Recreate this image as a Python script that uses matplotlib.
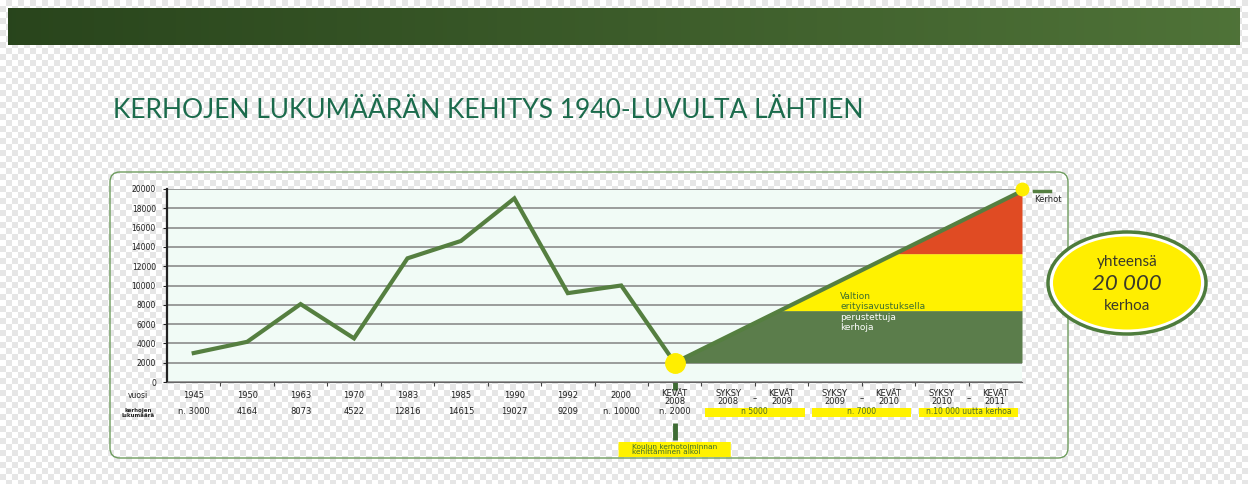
import numpy as np
import matplotlib
matplotlib.use('Agg')
import matplotlib.pyplot as plt
from matplotlib.patches import FancyBboxPatch, Ellipse, Rectangle
from matplotlib import transforms

W, H = 1248, 484

# data
years = ['1945', '1950', '1963', '1970', '1983', '1985', '1990', '1992', '2000',
         'KEVÄT\n2008', 'SYKSY\n2008', 'KEVÄT\n2009', 'SYKSY\n2009', 'KEVÄT\n2010',
         'SYKSY\n2010', 'KEVÄT\n2011']
counts = [3000, 4164, 8073, 4522, 12816, 14615, 19027, 9209, 10000, 2000]
count_labels = ['n. 3000', '4164', '8073', '4522', '12816', '14615', '19027', '9209',
                'n. 10000', 'n. 2000']
# new clubs after spring 2008: band limits (cumulative) and top of the wedge
band_limits = [2000, 7400, 13300, 19800]
band_colors = ['#5b7d4b', '#fff200', '#e04b23']
period_labels = ['n 5000', 'n. 7000', 'n.10 000 uutta kerhoa']
period_start = [10, 12, 14]
yticks = list(range(0, 20001, 2000))

fig = plt.figure(figsize=(W / 100, H / 100), dpi=100)

# transparent-looking checkerboard background
yy, xx = np.mgrid[0:H, 0:W]
chk = ((yy // 6 + xx // 6) % 2).astype(float)
bg = np.where(chk[..., None] == 1, np.array([0.905, 0.905, 0.905]), np.array([1.0, 1.0, 1.0]))
fig.figimage(bg, 0, 0, zorder=0)


def px_axes(x, y, w, h, **kw):
    return fig.add_axes([x / W, 1 - (y + h) / H, w / W, h / H], **kw)


# overlay in pixel coords
ov = px_axes(0, 0, W, H, zorder=1)
ov.set_xlim(0, W)
ov.set_ylim(H, 0)
ov.axis('off')
ov.patch.set_alpha(0)

# green banner
grad = np.linspace(0, 1, 300)
c0 = np.array([0.16, 0.27, 0.11])
c1 = np.array([0.31, 0.45, 0.22])
band = (c0[None, :] + (c1 - c0)[None, :] * grad[:, None])[None, :, :]
ov.imshow(band, extent=[8, 1240, 45, 8], aspect='auto')

ov.text(113, 110, 'KERHOJEN LUKUMÄÄRÄN KEHITYS 1940-LUVULTA LÄHTIEN',
        fontsize=19, color='#1b6b4c', va='center', ha='left', family='Lato')

frame = FancyBboxPatch((110, 172), 958, 286, boxstyle='round,pad=0,rounding_size=10',
                       fc='none', ec='#6e9c5e', lw=1.0)
ov.add_patch(frame)

# main chart
ax = px_axes(167, 189, 855, 193, zorder=2)
ax.set_facecolor('#f1fbf6')
ax.set_xlim(0, len(years))
ax.set_ylim(0, 20000)
ax.set_yticks(yticks)
ax.set_yticklabels([str(v) for v in yticks], fontsize=5.5, color='#222222')
ax.set_xticks(range(1, len(years)))
ax.set_xticklabels([])
ax.tick_params(axis='x', length=3, color='#444444')
ax.tick_params(axis='y', length=3, color='#222222', pad=5)
ax.grid(axis='y', color='#8c8c8c', lw=1.2)
ax.set_axisbelow(True)
for s in ['top', 'right']:
    ax.spines[s].set_visible(False)
ax.spines['left'].set_linewidth(1.6)
ax.spines['left'].set_color('#222222')
ax.spines['bottom'].set_color('#666666')

xs = np.arange(len(counts)) + 0.5
ax.plot(xs, counts, color='#557f40', lw=3, solid_joinstyle='miter', zorder=3)

# wedge of new clubs
x0, y0 = xs[-1], band_limits[0]
x1, y1 = len(years), band_limits[-1]


def hyp_x(y):
    return x0 + (np.asarray(y) - y0) / (y1 - y0) * (x1 - x0)


for lo, hi, col in zip(band_limits[:-1], band_limits[1:], band_colors):
    yv = np.array([lo, hi])
    ax.fill_betweenx(yv, hyp_x(yv), x1, color=col, lw=0, zorder=2)
ax.plot([x0, x1], [y0, y1], color='#557f40', lw=3, zorder=3, clip_on=False)
ax.plot([x0], [y0], 'o', ms=14, color='#ffee00', zorder=5, clip_on=False)
ax.plot([x1], [20000], 'o', ms=9, color='#ffee00', zorder=5, clip_on=False)

wedge_text = [('Valtion', 8911, '#3c6e2e'), ('erityisavustuksella', 7875, '#3c6e2e'),
              ('perustettuja', 6735, 'white'), ('kerhoja', 5596, 'white')]
for t, yv, col in wedge_text:
    ax.text(12.6, yv, t, fontsize=6.5, color=col, va='center', ha='left', zorder=4)

# legend
ov.plot([1034, 1050], [191, 191], color='#557f40', lw=2.5)
ov.text(1034, 199, 'Kerhot', fontsize=6, color='#222222', va='center', ha='left')

# table below the chart
bt = transforms.blended_transform_factory(ax.transData, ov.transData)
ov.text(138, 395, 'vuosi', fontsize=5.5, ha='center', va='center', color='#222222')
ov.text(138, 413, 'kerhojen\nlukumäärä', fontsize=4, ha='center', va='center',
        color='#222222', fontweight='bold', linespacing=0.9)
for i, lab in enumerate(years):
    if '\n' in lab:
        a, b = lab.split('\n')
        ov.text(i + 0.5, 393, a, transform=bt, fontsize=6, ha='center', va='center', color='#222222')
        ov.text(i + 0.5, 401, b, transform=bt, fontsize=6, ha='center', va='center', color='#222222')
    else:
        ov.text(i + 0.5, 395, lab, transform=bt, fontsize=6, ha='center', va='center', color='#222222')
for i, lab in enumerate(count_labels):
    ov.text(i + 0.5, 411, lab, transform=bt, fontsize=6, ha='center', va='center', color='#222222')
for s in period_start:
    ov.text(s + 1, 399, '–', transform=bt, fontsize=6, ha='center', va='center', color='#222222')
for s, lab in zip(period_start, period_labels):
    ov.add_patch(Rectangle((s + 0.07, 408), 1.86, 9, transform=bt, fc='#fff200', ec='none'))
    ov.text(s + 1, 412, lab, transform=bt, fontsize=5.5, ha='center', va='center', color='#4d6b2a')

# start marker below the axis
ov.plot([x0, x0], [366, 390], transform=bt, color='#3e6b34', lw=3.5, solid_capstyle='butt')
ov.plot([x0, x0], [423, 440], transform=bt, color='#3e6b34', lw=3.5, solid_capstyle='butt')
ov.add_patch(FancyBboxPatch((x0 - 1.05, 442), 2.1, 15, transform=bt,
                            boxstyle='round,pad=0,rounding_size=0.05',
                            fc='#fff200', ec='none'))
ov.text(x0 - 0.8, 449.5, 'Koulun kerhotoiminnan\nkehittäminen alkoi', transform=bt,
        fontsize=5.3, ha='left', va='center', color='#3d6b2d', linespacing=0.95)

# total badge
ov.add_patch(Ellipse((1127, 283), 158, 102, fc='white', ec='#4e7c3c', lw=2.5, zorder=5))
ov.add_patch(Ellipse((1127, 283), 148, 93, fc='#ffee00', ec='none', zorder=6))
ov.text(1127, 262, 'yhteensä', fontsize=11, ha='center', va='center', color='#3a3a2a',
        family='Lato', zorder=7)
ov.text(1127, 284, '20 000', fontsize=16, ha='center', va='center', color='#3a3a2a',
        family='Lato', style='italic', zorder=7)
ov.text(1127, 306, 'kerhoa', fontsize=11, ha='center', va='center', color='#3a3a2a',
        family='Lato', zorder=7)

fig.savefig('out.png', dpi=100)
